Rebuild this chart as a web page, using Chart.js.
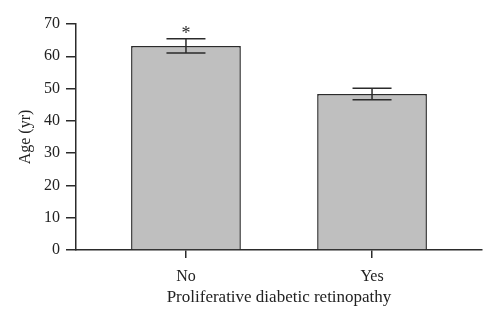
<!DOCTYPE html>
<html lang="en">
<head>
    <meta charset="UTF-8">
    <title>Age by proliferative diabetic retinopathy</title>
    <style>
        html, body { margin: 0; padding: 0; background: #fff; }
        #wrap { width: 500px; height: 323px; }
    </style>
</head>
<body>
    <div id="wrap"><canvas id="ageChart" width="500" height="323"></canvas></div>

    <script src="https://cdn.jsdelivr.net/npm/chart.js"></script>
    <script>
        const categories = ['No', 'Yes'];
        const meanAge = [63.2, 48.3];
        const errAge = [2.2, 1.8];
        const marks = ['*', ''];

        const ink = '#2b2b2b';
        const serif = "'Liberation Serif', 'DejaVu Serif', serif";

        // error bars + significance star, drawn from the scales
        const errorBars = {
            id: 'errorBars',
            afterDatasetsDraw(chart) {
                const ctx = chart.ctx;
                const xs = chart.scales.x, ys = chart.scales.y;
                ctx.save();
                ctx.strokeStyle = ink;
                ctx.lineWidth = 1.5;
                meanAge.forEach((m, i) => {
                    const x = xs.getPixelForValue(i);
                    const top = ys.getPixelForValue(m + errAge[i]);
                    const bot = ys.getPixelForValue(m - errAge[i]);
                    const cap = 19.5;
                    ctx.beginPath();
                    ctx.moveTo(x, top); ctx.lineTo(x, bot);
                    ctx.moveTo(x - cap, top); ctx.lineTo(x + cap, top);
                    ctx.moveTo(x - cap, bot); ctx.lineTo(x + cap, bot);
                    ctx.stroke();
                    if (marks[i]) {
                        ctx.fillStyle = ink;
                        ctx.font = '18px ' + serif;
                        ctx.textAlign = 'center';
                        ctx.textBaseline = 'alphabetic';
                        ctx.fillText(marks[i], x, top);
                    }
                });
                ctx.restore();
            }
        };

        const ctx = document.getElementById('ageChart').getContext('2d');
        new Chart(ctx, {
            type: 'bar',
            data: {
                datasets: [{
                    data: meanAge.map((v, i) => ({ x: i, y: v })),
                    backgroundColor: '#bfbfbf',
                    borderColor: ink,
                    borderWidth: 1.5,
                    barPercentage: 0.59,
                    categoryPercentage: 1.0
                }]
            },
            options: {
                responsive: false,
                animation: false,
                layout: { padding: { top: 24, right: 18, left: 0, bottom: 0 } },
                plugins: { legend: { display: false }, tooltip: { enabled: false } },
                scales: {
                    x: {
                        type: 'linear',
                        offset: false,
                        min: -0.591,
                        max: 1.591,
                        afterBuildTicks: (scale) => {
                            scale.ticks = categories.map((c, i) => ({ value: i }));
                        },
                        afterFit: (scale) => { scale.height = 73; },
                        grid: { display: true, offset: false, drawOnChartArea: false, drawTicks: true, tickLength: 8, color: ink, lineWidth: 1.5 },
                        border: { display: true, color: ink, width: 1.5 },
                        ticks: {
                            padding: 9,
                            color: '#222',
                            font: { family: serif, size: 16 },
                            callback: (v) => categories[v]
                        },
                        title: {
                            display: true,
                            text: 'Proliferative diabetic retinopathy',
                            color: '#222',
                            font: { family: serif, size: 17 },
                            padding: { top: 0, bottom: 15 }
                        }
                    },
                    y: {
                        min: 0,
                        max: 70,
                        afterFit: (scale) => { scale.width = 76; },
                        ticks: {
                            stepSize: 10,
                            padding: 6,
                            color: '#222',
                            font: { family: serif, size: 16 }
                        },
                        grid: { display: true, drawOnChartArea: false, drawTicks: true, tickLength: 10, color: ink, lineWidth: 1.5 },
                        border: { display: true, color: ink, width: 1.5 },
                        title: {
                            display: true,
                            text: 'Age (yr)',
                            color: '#222',
                            font: { family: serif, size: 16 },
                            padding: { top: 16, bottom: 0 }
                        }
                    }
                }
            },
            plugins: [errorBars]
        });
    </script>
</body>
</html>
